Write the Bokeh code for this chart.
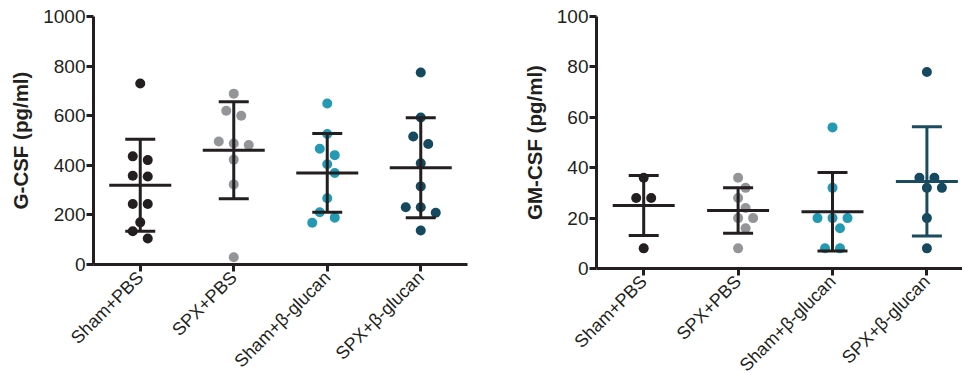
import math
import numpy as np
from bokeh.plotting import figure
from bokeh.layouts import row
from bokeh.models import Range1d, FixedTicker
from bokeh.embed import file_html
from bokeh.resources import INLINE

# ---------------- data ----------------
groups = ["Sham+PBS", "SPX+PBS", "Sham+\u03b2-glucan", "SPX+\u03b2-glucan"]

gcsf_sham_pbs = [730, 436, 421, 358, 355, 244, 244, 170, 134, 105]
gcsf_spx_pbs = [689, 620, 600, 496, 488, 482, 423, 323, 29]
gcsf_sham_bg = [649, 526, 467, 441, 404, 369, 267, 211, 189, 168]
gcsf_spx_bg = [774, 593, 516, 486, 408, 315, 231, 231, 209, 137]

gmcsf_sham_pbs = [36, 28, 28, 8]
gmcsf_spx_pbs = [36, 32, 28, 24, 20, 20, 16, 8]
gmcsf_sham_bg = [56, 32, 20, 20, 20, 16, 8, 8]
gmcsf_spx_bg = [78, 36, 36, 32, 32, 20, 8]

gcsf_ticks = [0, 200, 400, 600, 800, 1000]
gmcsf_ticks = [0, 20, 40, 60, 80, 100]

# ---------------- style ----------------
INK = "#231F20"
dot_colors = ["#231F20", "#939598", "#2399B4", "#15495F"]
FONT = "Liberation Sans"


def swarm(vals, px_per_unit, d=11.0, step=7.5, row_tol=8.0):
    """Deterministic beeswarm offsets (pixels) for a column of dots."""
    n = len(vals)
    order = sorted(range(n), key=lambda i: -vals[i])
    rows, cur = [], [order[0]]
    for idx in order[1:]:
        if abs(vals[cur[0]] - vals[idx]) * px_per_unit <= row_tol:
            cur.append(idx)
        else:
            rows.append(cur)
            cur = [idx]
    rows.append(cur)
    placed = []
    offs = [0.0] * n
    shifts = [0]
    for k in range(1, 8):
        shifts += [k * step, -k * step]
    for r in rows:
        m = len(r)
        base = [(k - (m - 1) / 2) * 2 * step for k in range(m)]
        for s in shifts:
            cand = [b + s for b in base]
            ok = True
            for cx, idx in zip(cand, r):
                cy = vals[idx] * px_per_unit
                for (px, py) in placed:
                    if math.hypot(cx - px, cy - py) < d:
                        ok = False
                        break
                if not ok:
                    break
            if ok:
                break
        for cx, idx in zip(cand, r):
            offs[idx] = cx
            placed.append((cx, vals[idx] * px_per_unit))
    return offs


def make_panel(data, ylabel, ymax, ticks, frame_w, frame_h, cat_px,
               border_left, border_right, border_top, border_bottom, bar_colors):
    xmax = 0.5 + frame_w / cat_px
    p = figure(output_backend="svg", toolbar_location=None,
               frame_width=frame_w, frame_height=frame_h,
               x_range=Range1d(0.5, xmax), y_range=Range1d(0, ymax),
               min_border_left=border_left, min_border_right=border_right,
               min_border_top=border_top, min_border_bottom=border_bottom)
    p.outline_line_color = None
    p.xgrid.visible = False
    p.ygrid.visible = False

    px_per_unit = frame_h / ymax

    for i, vals in enumerate(data):
        cx = i + 1
        offs = swarm(vals, px_per_unit)
        xs = [cx + o / cat_px for o in offs]
        p.scatter(xs, vals, size=10, color=dot_colors[i], line_color=None)

    for i, vals in enumerate(data):
        cx = i + 1
        arr = np.array(vals, dtype=float)
        m = arr.mean()
        sd = arr.std(ddof=1)
        col = bar_colors[i]
        cap = 15 / cat_px
        half = 31 / cat_px
        p.segment(x0=[cx], y0=[m - sd], x1=[cx], y1=[m + sd],
                  line_color=col, line_width=3)
        p.segment(x0=[cx - cap, cx - cap], y0=[m - sd, m + sd],
                  x1=[cx + cap, cx + cap], y1=[m - sd, m + sd],
                  line_color=col, line_width=3)
        p.segment(x0=[cx - half], y0=[m], x1=[cx + half], y1=[m],
                  line_color=col, line_width=3)

    for ax in (p.xaxis[0], p.yaxis[0]):
        ax.axis_line_width = 3
        ax.axis_line_color = INK
        ax.major_tick_line_width = 3
        ax.major_tick_line_color = INK
        ax.major_tick_out = 7
        ax.major_tick_in = 0
        ax.minor_tick_line_color = None
        ax.major_label_text_font = FONT
        ax.major_label_text_color = INK

    p.yaxis.major_label_text_font_size = "19px"
    p.yaxis.ticker = FixedTicker(ticks=ticks)
    p.yaxis.major_label_standoff = 1
    p.yaxis.axis_label = ylabel
    p.yaxis.axis_label_text_font = FONT
    p.yaxis.axis_label_text_font_style = "bold"
    p.yaxis.axis_label_text_font_size = "20.5px"
    p.yaxis.axis_label_text_color = INK
    p.yaxis.axis_label_standoff = 8

    p.xaxis.major_label_text_font_size = "18px"
    p.xaxis.ticker = FixedTicker(ticks=[1, 2, 3, 4])
    p.xaxis.major_label_overrides = {i + 1: g for i, g in enumerate(groups)}
    p.xaxis.major_label_orientation = math.pi / 4
    p.xaxis.major_label_standoff = 3
    return p


p1 = make_panel([gcsf_sham_pbs, gcsf_spx_pbs, gcsf_sham_bg, gcsf_spx_bg],
                "G-CSF (pg/ml)", 1000, gcsf_ticks, 374, 248, 93.5,
                93, 40, 16, 110, [INK, INK, INK, INK])
p2 = make_panel([gmcsf_sham_pbs, gmcsf_spx_pbs, gmcsf_sham_bg, gmcsf_spx_bg],
                "GM-CSF (pg/ml)", 100, gmcsf_ticks, 366, 252, 94.4,
                89, 0, 14, 108, [INK, INK, INK, "#1B4B5F"])

layout = row(p1, p2)
open("out.html", "w").write(file_html(layout, INLINE))
